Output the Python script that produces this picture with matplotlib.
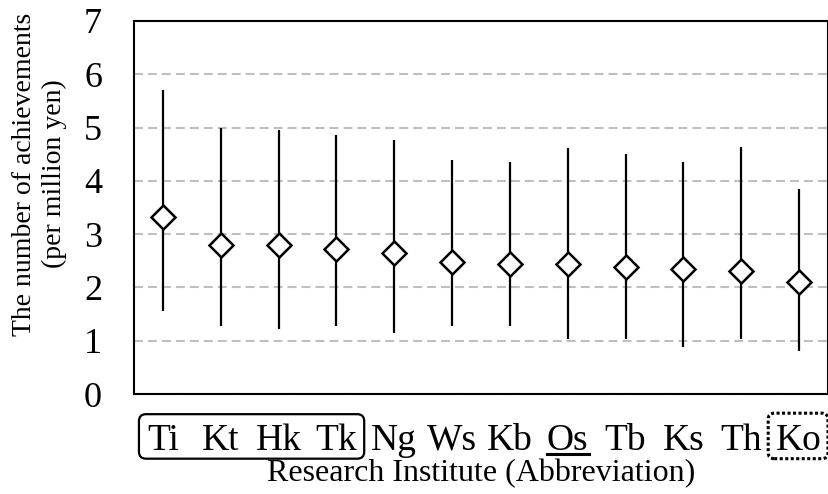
import matplotlib
matplotlib.use("Agg")
import matplotlib.pyplot as plt
from matplotlib.patches import FancyBboxPatch
from matplotlib.lines import Line2D
from matplotlib.transforms import Bbox, IdentityTransform

# achievements per million yen, by research institute
institutes = ["Ti", "Kt", "Hk", "Tk", "Ng", "Ws", "Kb", "Os", "Tb", "Ks", "Th", "Ko"]
mean_vals = [3.32, 2.80, 2.79, 2.72, 2.65, 2.48, 2.44, 2.44, 2.39, 2.34, 2.31, 2.11]
upper_vals = [5.70, 4.99, 4.96, 4.86, 4.76, 4.40, 4.36, 4.62, 4.51, 4.35, 4.63, 3.85]
lower_vals = [1.56, 1.28, 1.22, 1.28, 1.15, 1.28, 1.28, 1.03, 1.03, 0.89, 1.03, 0.81]

boxed_group = ["Ti", "Kt", "Hk", "Tk"]
underlined = "Os"
dotted_group = ["Ko"]

plt.rcParams["font.family"] = "Liberation Serif"

fig = plt.figure(figsize=(8.29, 4.94), dpi=100)
ax = fig.add_axes([0.1616, 0.2024, 0.8372, 0.7551])

x = list(range(len(institutes)))
ax.vlines(x, lower_vals, upper_vals, color="black", linewidth=1.6, zorder=2)
ax.plot(x, mean_vals, linestyle="none", marker="D", markersize=12,
        markerfacecolor="white", markeredgecolor="black",
        markeredgewidth=1.8, zorder=3)

ax.set_xlim(-0.5, len(institutes) - 0.5)
ax.set_ylim(0, 7)
ax.set_yticks(range(8))
ax.set_xticks(x)
ax.set_xticklabels(institutes)
ax.tick_params(axis="y", length=0, pad=23, labelsize=26)
ax.tick_params(axis="x", length=0, pad=21, labelsize=27)

ax.set_axisbelow(True)
ax.yaxis.grid(True, color="#bfbfbf", linewidth=1.5, linestyle=(0, (4.3, 2.4)))
for sp in ax.spines.values():
    sp.set_linewidth(1.5)
    sp.set_color("black")

ax.set_xlabel("Research Institute (Abbreviation)", fontsize=23, labelpad=1)
fig.text(0.0477, 0.648, "The number of achievements\n(per million yen)",
         rotation=90, ha="center", va="center", multialignment="center",
         fontsize=20, linespacing=1.25)

# frames and underline around selected tick labels
fig.canvas.draw()
renderer = fig.canvas.get_renderer()
tick_texts = ax.get_xticklabels()


def label_extent(names):
    return Bbox.union([tick_texts[institutes.index(n)].get_window_extent(renderer)
                       for n in names])


bb = label_extent(boxed_group)
fig.add_artist(FancyBboxPatch((bb.x0 - 8, bb.y0 - 1), bb.width + 15, bb.height + 10,
                              boxstyle="round,pad=0,rounding_size=7",
                              transform=IdentityTransform(), facecolor="none",
                              edgecolor="black", linewidth=1.6))

bb = label_extent(dotted_group)
fig.add_artist(FancyBboxPatch((bb.x0 - 8, bb.y0 - 1), bb.width + 14, bb.height + 11,
                              boxstyle="round,pad=0,rounding_size=6",
                              transform=IdentityTransform(), facecolor="none",
                              edgecolor="black", linewidth=2.2,
                              linestyle=(0, (1, 0.8))))

bb = label_extent([underlined])
fig.add_artist(Line2D([bb.x0, bb.x1], [bb.y0 + 4, bb.y0 + 4],
                      transform=IdentityTransform(), color="black", linewidth=2.2))

fig.savefig("out.png", dpi=100)
